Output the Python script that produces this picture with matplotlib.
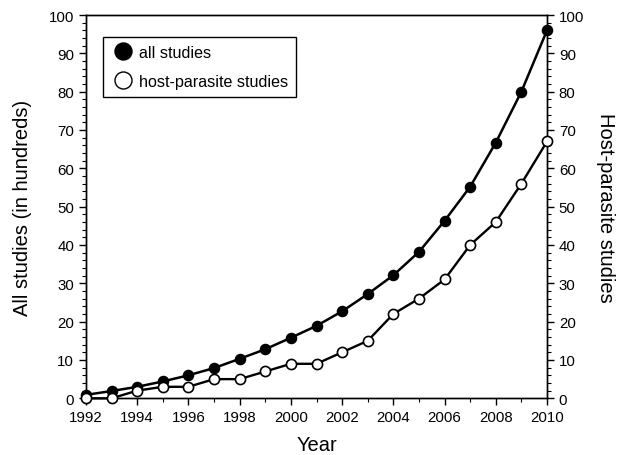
import matplotlib
matplotlib.use("Agg")
import matplotlib.pyplot as plt
from matplotlib.ticker import MultipleLocator

plt.rcParams['font.family'] = ['Liberation Sans', 'DejaVu Sans']

years = list(range(1992, 2011))
all_studies = [0.9, 1.9, 3.0, 4.4, 6.0, 7.9, 10.3, 12.8, 15.8, 18.9, 22.7,
               27.2, 32.1, 38.2, 46.3, 55.2, 66.7, 80.0, 96.0]
host_parasite = [0, 0, 2, 3, 3, 5, 5, 7, 9, 9, 12, 15, 22, 26, 31, 40, 46, 56, 67]
labels = ['all studies', 'host-parasite studies']

fig = plt.figure(figsize=(6.23, 4.56), dpi=100)
ax = fig.add_axes([86/623, 1-399.3/456, (547-86)/623, (399.3-16)/456])
ax2 = ax.twinx()

ax.plot(years, all_studies, color='black', lw=1.8, marker='o', ms=7.3,
        mfc='black', mec='black', clip_on=False, zorder=3)
ax2.plot(years, host_parasite, color='black', lw=1.7, marker='o', ms=7.3,
         mfc='white', mec='black', mew=1.2, clip_on=False, zorder=3)

for a in (ax, ax2):
    a.set_ylim(0, 100)
    a.yaxis.set_major_locator(MultipleLocator(10))
    a.yaxis.set_minor_locator(MultipleLocator(2))
    a.tick_params(axis='both', which='major', length=5, width=1, labelsize=10.8, direction='out')
    a.tick_params(axis='both', which='minor', length=3, width=0.8, direction='out')
    for s in a.spines.values():
        s.set_linewidth(1)
ax.set_xlim(1992, 2010)
ax.xaxis.set_major_locator(MultipleLocator(2))
ax.xaxis.set_minor_locator(MultipleLocator(1))

ax.set_xlabel('Year', fontsize=14.5, labelpad=8)
ax.set_ylabel('All studies (in hundreds)', fontsize=14.5, labelpad=12)
ax2.set_ylabel('Host-parasite studies', fontsize=14.5, rotation=270, labelpad=22)

h1 = plt.Line2D([], [], ls='none', marker='o', ms=7, mfc='black', mec='black')
h2 = plt.Line2D([], [], ls='none', marker='o', ms=7, mfc='white', mec='black', mew=1.0)
leg = ax.legend(handles=[h1, h2], labels=labels,
                loc='upper left', bbox_to_anchor=(0.037, 0.9426), borderaxespad=0,
                fontsize=11.6, markerscale=1.75, handlelength=1.5, handletextpad=0.2,
                labelspacing=0.85, borderpad=0.5, fancybox=False, framealpha=1,
                edgecolor='black')
leg.get_frame().set_linewidth(1)
leg.set_zorder(5)

fig.savefig('out.png', dpi=100)
